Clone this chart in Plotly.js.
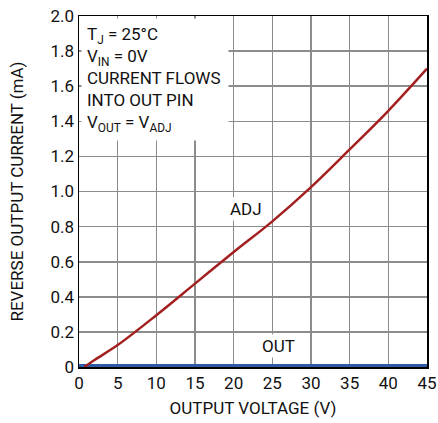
<!DOCTYPE html>
<html><head><meta charset="utf-8">
<script src="https://cdn.plot.ly/plotly-3.0.1.min.js"></script>
<style>body{margin:0;background:#fff}#g{width:438px;height:423px}</style>
</head><body><div id="g"></div>
<script>
var adjX = [0.7, 2, 5, 10, 15, 20, 25, 30, 35, 40, 45];
var adjY = [0, 0.04, 0.125, 0.295, 0.475, 0.655, 0.83, 1.025, 1.24, 1.46, 1.70];
var outX = [0, 45];
var outY = [0.008, 0.008];
var xTicks = [0, 5, 10, 15, 20, 25, 30, 35, 40, 45];
var yTickVals = [0, 0.2, 0.4, 0.6, 0.8, 1.0, 1.2, 1.4, 1.6, 1.8, 2.0];
var yTickText = ["0", "0.2", "0.4", "0.6", "0.8", "1.0", "1.2", "1.4", "1.6", "1.8", "2.0"];

var F = "Roboto, sans-serif";
var traces = [
  {x: outX, y: outY, mode: "lines", line: {color: "#2e5aa8", width: 3}, hoverinfo: "skip"},
  {x: adjX, y: adjY, mode: "lines", line: {color: "#a32020", width: 2.5, shape: "spline"}, hoverinfo: "skip"}
];
var layout = {
  width: 438, height: 423,
  margin: {l: 79, r: 11, t: 16, b: 56},
  showlegend: false,
  paper_bgcolor: "#fff", plot_bgcolor: "#fff",
  font: {family: F, size: 17, color: "#111"},
  xaxis: {range: [0, 45], tickvals: xTicks, ticks: "", showgrid: true, gridcolor: "#8c8c8c", gridwidth: 1.6,
    zeroline: false, showline: true, linecolor: "#000", linewidth: 1.5, mirror: true,
    tickfont: {family: F, size: 17},
    title: {text: "OUTPUT VOLTAGE (V)", font: {family: F, size: 17}, standoff: 10}},
  yaxis: {range: [0, 2.0], tickvals: yTickVals, ticktext: yTickText, ticks: "", showgrid: true, gridcolor: "#8c8c8c", gridwidth: 1.6,
    zeroline: false, showline: true, linecolor: "#000", linewidth: 1.5, mirror: true,
    tickfont: {family: F, size: 17},
    title: {text: "REVERSE OUTPUT CURRENT (mA)", font: {family: F, size: 17}, standoff: 22}},
  annotations: [
    {xref: "paper", yref: "paper", x: 0.005, y: 0.995, xanchor: "left", yanchor: "top", align: "left",
     showarrow: false, bgcolor: "#fff", borderpad: 5, width: 136,
     font: {family: F, size: 17, color: "#111"},
     text: "T<sub>J</sub> = 25°C<br>V<sub>IN</sub> = 0V<br>CURRENT FLOWS<br>INTO OUT PIN<br>V<sub>OUT</sub> = V<sub>ADJ</sub>"},
    {x: 21.6, y: 0.9, text: "ADJ", showarrow: false, bgcolor: "#fff", font: {family: F, size: 17, color: "#111"}},
    {x: 25.8, y: 0.12, text: "OUT", showarrow: false, bgcolor: "#fff", font: {family: F, size: 17, color: "#111"}}
  ]
};
Plotly.newPlot("g", traces, layout, {staticPlot: true, displayModeBar: false});
</script></body></html>
